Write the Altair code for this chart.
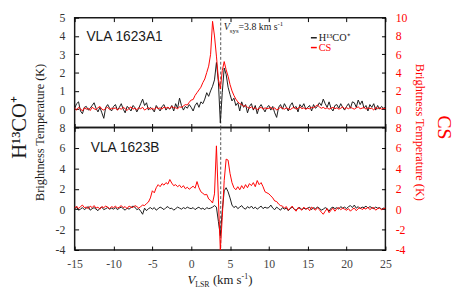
import altair as alt
import pandas as pd

# ---------------- data ----------------
V_START = -15.0
V_STEP = 0.25
VSYS = 3.8

# VLA 1623A1, H13CO+ (left axis, K)
A1_HCO = [
    0.05, 0.30, 0.40, -0.10, -0.25, 0.10, 0.15, -0.05, 0.05, 0.20, 0.35, 0.05, -0.15, 0.10, -0.20, -0.50, 0.10, 0.25, 0.05, -0.10,
    0.15, 0.25, -0.05, 0.10, 0.30, 0.00, -0.20, 0.15, 0.05, -0.10, 0.20, 0.10, -0.15, 0.05, 0.30, 0.55, 0.20, 0.35, -0.05, 0.10,
    0.00, -0.15, 0.20, 0.05, -0.10, 0.15, 0.25, -0.05, 0.10, 0.00, 0.20, -0.10, 0.30, 0.05, 0.60, 0.20, -0.05, 0.15, 0.05, 0.25,
    0.10, -0.10, 0.20, 0.35, 0.10, 0.40, 0.30, 0.55, 0.90, 0.70, 1.00, 1.25, 1.60, 2.55, 1.50, -0.75, 0.90, 2.25, 1.90, 1.20,
    0.80, 0.45, 0.60, 0.20, 0.35, -0.10, 0.40, 0.10, 0.25, -0.20, 0.15, 0.30, -0.05, 0.20, -0.25, 0.10, 0.25, 0.05, -0.15, 0.10,
    0.20, -0.05, 0.15, -0.20, -0.45, 0.10, 0.25, 0.00, 0.30, 0.10, -0.10, 0.20, 0.35, 0.05, 0.15, -0.15, 0.25, 0.10, 0.30, 0.00,
    0.10, 0.20, -0.10, 0.25, 0.05, 0.15, 0.35, 0.20, 0.55, 0.30, 0.10, 0.40, 0.05, -0.10, 0.20, 0.25, 0.05, 0.30, 0.10, -0.05,
    0.15, 0.30, 0.05, 0.40, 0.35, 0.10, 0.50, 0.25, 0.45, 0.05, 0.20, -0.10, 0.25, 0.10, 0.30, -0.05, 0.20, 0.00, 0.15, 0.05, 0.10,
]
# VLA 1623A1, CS (right axis, K)
A1_CS = [
    0.10, -0.10, 0.20, 0.05, -0.20, 0.15, 0.00, 0.10, -0.15, 0.20, 0.05, -0.05, 0.15, 0.30, 0.00, -0.10, 0.10, 0.20, -0.05, 0.10,
    0.05, 0.15, -0.10, 0.10, 0.00, 0.20, 0.05, -0.15, 0.10, 0.25, 0.00, 0.10, -0.05, 0.15, 0.05, 0.20, -0.10, 0.05, 0.15, 0.00,
    0.10, -0.05, 0.20, 0.05, 0.15, 0.00, 0.25, 0.10, 0.20, 0.05, 0.30, 0.15, 0.15, 0.05, 0.25, 0.20, 0.35, 0.50, 0.45, 0.75,
    1.00, 1.05, 1.50, 1.80, 2.10, 2.40, 2.90, 3.30, 4.00, 4.70, 6.00, 9.60, 8.00, 5.80, 3.30, 2.20, 4.20, 5.20, 4.30, 3.60,
    2.70, 2.00, 1.50, 1.10, 0.80, 0.60, 0.50, 0.30, 0.40, 0.20, 0.10, 0.25, 0.05, 0.15, -0.05, 0.10, 0.20, 0.00, 0.15, 0.05,
    0.10, 0.20, 0.00, 0.15, -0.10, 0.05, 0.20, 0.10, 0.00, 0.15, 0.05, -0.05, 0.10, 0.20, 0.00, 0.10, 0.25, 0.05, 0.15, 0.00,
    0.10, 0.05, 0.20, 0.15, 0.30, 0.45, 0.25, 0.10, 0.20, 0.05, 0.15, 0.00, 0.10, 0.20, 0.05, 0.15, 0.00, 0.10, 0.25, 0.05,
    0.15, 0.05, 0.20, 0.10, 0.00, 0.15, 0.25, 0.05, 0.10, 0.20, 0.00, 0.15, 0.05, 0.10, -0.10, 0.20, 0.05, 0.15, 0.00, 0.10, 0.05,
]
# VLA 1623B, H13CO+ (left axis, K)
B_HCO = [
    0.05, 0.20, -0.10, 0.00, 0.15, -0.05, 0.10, 0.25, -0.10, 0.05, 0.15, 0.00, -0.15, 0.10, 0.20, -0.05, 0.05, 0.15, 0.00, 0.10,
    0.00, 0.15, -0.05, 0.10, 0.20, 0.05, -0.10, 0.10, 0.00, 0.15, 0.30, 0.20, -0.05, 0.05, -0.20, -0.50, 0.10, -0.15, 0.05, 0.15,
    0.00, 0.15, -0.10, 0.05, 0.20, 0.10, -0.05, 0.15, 0.25, 0.05, 0.10, -0.10, 0.05, 0.20, 0.10, 0.00, 0.15, 0.05, 0.20, 0.10,
    0.05, 0.15, -0.05, 0.10, 0.20, 0.00, 0.10, -0.05, 0.15, 0.05, 0.10, 0.20, 0.35, 0.20, -1.20, -2.60, -0.20, 1.80, 2.10, 1.70,
    1.10, 0.40, 0.15, 0.30, 0.05, 0.20, 0.35, 0.10, 0.00, 0.25, 0.10, 0.30, 0.05, 0.20, 0.00, 0.15, 0.30, 0.05, 0.20, 0.10,
    0.15, 0.40, 0.10, -0.05, 0.20, 0.05, -0.10, 0.15, 0.00, 0.10, -0.15, 0.05, 0.20, 0.00, -0.10, 0.10, 0.15, -0.05, 0.10, 0.00,
    0.10, 0.20, -0.05, 0.15, 0.05, 0.20, 0.10, -0.10, 0.00, 0.15, 0.05, -0.20, 0.10, 0.20, 0.05, 0.15, 0.00, 0.25, 0.10, 0.20,
    0.05, 0.25, 0.35, 0.15, 0.40, 0.10, 0.25, 0.05, 0.20, 0.15, 0.30, 0.10, 0.25, 0.15, 0.05, 0.20, 0.10, 0.15, 0.00, 0.10, 0.05,
]
# VLA 1623B, CS (right axis, K)
B_CS = [
    0.10, 0.30, 0.05, 0.25, 0.40, 0.15, 0.20, 0.05, 0.30, 0.15, 0.35, 0.10, 0.20, 0.00, 0.25, 0.15, 0.30, 0.20, 0.05, 0.25,
    0.15, 0.30, 0.10, 0.20, 0.35, 0.15, 0.25, 0.05, 0.30, 0.20, 0.15, 0.35, 0.25, 0.10, 0.25, 0.40, 0.35, 0.55, 0.70, 1.10,
    1.80, 1.60, 2.10, 2.40, 2.20, 2.50, 2.35, 2.60, 2.45, 2.90, 2.55, 2.30, 2.40, 2.20, 2.35, 2.10, 2.30, 2.00, 2.15, 1.95,
    2.10, 2.25, 2.05, 2.70, 2.10, 1.70, 1.55, 1.40, 1.45, 1.00, 0.85, 0.60, 1.50, 6.20, 1.00, -4.00, -0.80, 2.80, 4.90, 4.80,
    3.50, 2.60, 2.10, 1.90, 2.20, 1.90, 2.30, 2.00, 2.40, 2.10, 2.50, 2.30, 2.60, 2.20, 2.80, 2.40, 2.60, 2.20, 1.70, 1.60,
    1.50, 1.30, 1.10, 0.80, 0.75, 0.50, 0.35, 0.30, 0.10, 0.25, -0.10, 0.10, 0.30, 0.00, -0.20, 0.15, 0.05, -0.10, 0.20, 0.00,
    0.10, -0.15, 0.20, 0.05, -0.10, 0.15, -0.05, -0.30, -0.50, -0.20, 0.05, -0.35, -0.10, 0.10, -0.20, 0.05, 0.15, -0.05, 0.10, 0.00,
    -0.10, 0.05, -0.20, 0.00, 0.10, -0.15, 0.05, 0.15, -0.05, 0.10, 0.00, 0.20, -0.05, 0.10, 0.15, -0.10, 0.05, 0.10, -0.05, 0.05, 0.10,
]

X_TICKS = [-15, -10, -5, 0, 5, 10, 15, 20, 25]
TOP_LEFT_TICKS = [0, 1, 2, 3, 4, 5]
TOP_RIGHT_TICKS = [0, 2, 4, 6, 8, 10]
BOT_TICKS = [-4, -2, 0, 2, 4, 6, 8]

velocity = [round(V_START + V_STEP * i, 2) for i in range(len(A1_HCO))]
df_a1 = pd.DataFrame({"v": velocity, "hco": A1_HCO, "cs": A1_CS})
df_b = pd.DataFrame({"v": velocity, "hco": B_HCO, "cs": B_CS})
df_vsys = pd.DataFrame({"v": [VSYS]})
one = pd.DataFrame({"a": [0]})

# ---------------- styling ----------------
W, H_TOP, H_BOT = 317, 112, 125
SERIF = "Liberation Serif"
SANS = "Liberation Sans"
RED = "#ff0000"
BLACK = "#1a1a1a"
LABEL_GRAY = "#444444"

xscale = alt.Scale(domain=[-15, 25], nice=False, zero=False)


def x_axis(orient, labels=False):
    kw = dict(orient=orient, values=X_TICKS, tickSize=4, offset=-4, domain=False,
              grid=False, labels=labels, title=None, tickColor="black", tickWidth=1)
    if labels:
        kw.update(labelFont=SERIF, labelFontSize=12, labelColor=LABEL_GRAY,
                  labelPadding=9, labelFlush=False, labelOverlap=False,
                  labelExpr="'' + datum.value")
    return alt.Axis(**kw)


def y_axis(orient, values, color):
    return alt.Axis(orient=orient, values=values, tickSize=4, offset=-4, domain=False,
                    grid=False, title=None, tickColor="black", tickWidth=1,
                    labelFont=SERIF, labelFontSize=12, labelColor=color,
                    labelPadding=10, labelFlush=False, labelOverlap=False,
                    labelExpr="'' + datum.value")


def txt(text, x, y, size, color=BLACK, font=SERIF, style="normal", angle=0,
        align="left", baseline="alphabetic"):
    return alt.Chart(one).mark_text(
        text=text, font=font, fontSize=size, color=color, fontStyle=style,
        angle=angle, align=align, baseline=baseline,
    ).encode(x=alt.value(x), y=alt.value(y))


def seg(x1, x2, y, color):
    return alt.Chart(one).mark_rule(color=color, strokeWidth=1.5).encode(
        x=alt.value(x1), x2=alt.value(x2), y=alt.value(y))


def spectra(df, left_dom, left_ticks, right_dom, right_ticks, bottom_labels):
    vsys = alt.Chart(df_vsys).mark_rule(color="#555555", strokeDash=[3, 2], strokeWidth=1).encode(
        x=alt.X("v:Q", scale=xscale, axis=None))
    black = alt.Chart(df).mark_line(color=BLACK, strokeWidth=1).encode(
        x=alt.X("v:Q", scale=xscale, axis=x_axis("bottom", bottom_labels)),
        y=alt.Y("hco:Q", scale=alt.Scale(domain=left_dom, nice=False, zero=False),
                axis=y_axis("left", left_ticks, "#333333")))
    red = alt.Chart(df).mark_line(color=RED, strokeWidth=1).encode(
        x=alt.X("v:Q", scale=xscale, axis=x_axis("top")),
        y=alt.Y("cs:Q", scale=alt.Scale(domain=right_dom, nice=False, zero=False),
                axis=y_axis("right", right_ticks, RED)))
    return vsys, black, red


# ---------------- top panel: VLA 1623A1 ----------------
v1, b1, r1 = spectra(df_a1, [-1, 5], TOP_LEFT_TICKS, [-2, 10], TOP_RIGHT_TICKS, False)
top = alt.layer(
    v1, b1, r1,
    txt("VLA 1623A1", 12, 24, 14, font=SANS),
    txt("V", 152, 13, 10, style="italic"),
    txt("sys", 158.3, 15.5, 7),
    txt("=3.8 km s", 167.2, 13, 10),
    txt("-1", 207, 9, 7),
    seg(241, 247, 20.5, BLACK),
    txt("H\u00b9\u00b3CO\u207a", 249, 24, 10.5),
    seg(241, 247, 30.5, RED),
    txt("CS", 249, 34.5, 10.5, color=RED),
).resolve_scale(x="independent", y="independent").properties(width=W, height=H_TOP)

# ---------------- bottom panel: VLA 1623B ----------------
v2, b2, r2 = spectra(df_b, [-4, 8], BOT_TICKS, [-4, 8], BOT_TICKS, True)
bottom = alt.layer(
    v2, b2, r2,
    txt("VLA 1623B", 16.5, 25, 14, font=SANS),
    # x-axis title  V_LSR (km s-1)
    txt("V", 115, H_BOT + 35, 13, style="italic"),
    txt("LSR", 123, H_BOT + 38, 8),
    txt("(km s", 141, H_BOT + 35, 13),
    txt("-1", 170.3, H_BOT + 30, 8),
    txt(")", 177, H_BOT + 35, 13),
    # left titles
    txt("Brightness Temperature (K)", -35, 5, 12.5, angle=270, align="center", baseline="middle"),
    txt("H\u00b9\u00b3CO\u207a", -56, 0, 21, angle=270, align="center", baseline="middle"),
    # right titles
    txt("Brightness Temperature (K)", W + 35, 5, 12.5, color=RED, angle=90, align="center", baseline="middle"),
    txt("CS", W + 60, 0, 20, color=RED, angle=90, align="center", baseline="middle"),
).resolve_scale(x="independent", y="independent").properties(width=W, height=H_BOT)

chart = alt.vconcat(top, bottom, spacing=0, bounds="flush").properties(
    padding=0, background="white"
).configure_view(stroke=BLACK, strokeWidth=1.5)

chart.save("out.html", embed_options={"renderer": "svg", "actions": False})
